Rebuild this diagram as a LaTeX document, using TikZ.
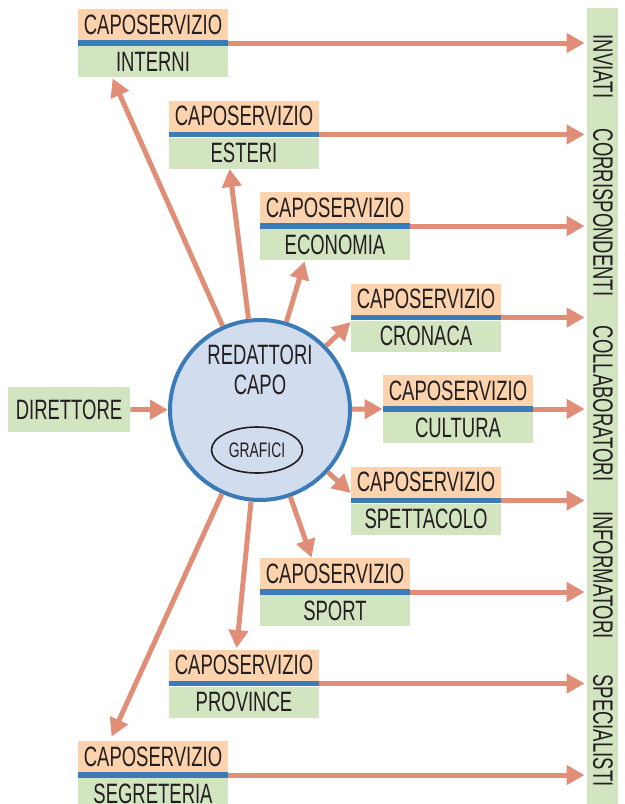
\documentclass[tikz,border=0pt]{standalone}
\usepackage{fontspec}
\setmainfont{Liberation Sans}[FakeStretch=0.66]
\usetikzlibrary{arrows.meta,shapes.geometric}

\definecolor{pesca}{HTML}{FDD3AE}
\definecolor{verde}{HTML}{D3E4C1}
\definecolor{blu}{HTML}{3A7BB8}
\definecolor{salmone}{HTML}{E08E77}
\definecolor{azzurro}{HTML}{D1DDEE}
\definecolor{inchiostro}{HTML}{231F20}

\tikzset{
  testo/.style={font=\fontsize{14}{15}\selectfont, text=inchiostro},
  capo/.style={testo, fill=pesca, minimum width=75pt, minimum height=15.5pt, inner sep=0pt},
  sezione/.style={testo, fill=verde, minimum width=75pt, minimum height=15.5pt, inner sep=0pt},
  flow/.style={draw=salmone, line width=2.5pt, -{Triangle[length=9pt,width=9.5pt]}},
  hub/.style={circle, fill=azzurro, draw=blu, line width=2pt, minimum size=90pt, inner sep=0pt}
}

\begin{document}
\begin{tikzpicture}[x=0.5pt,y=-0.5pt]
  \useasboundingbox (0,0) rectangle (625,804);

  % colonna delle fonti esterne
  \node[fill=verde, minimum width=15.5pt, minimum height=398pt, inner sep=0pt] (fonti) at (602.5,406) {};
  \node[testo, rotate=-90] (inviati) at (603,66.5) {INVIATI};
  \node[testo, rotate=-90] (corrispondenti) at (603,212.5) {CORRISPONDENTI};
  \node[testo, rotate=-90] (collaboratori) at (603,403.5) {COLLABORATORI};
  \node[testo, rotate=-90] (informatori) at (603,575) {INFORMATORI};
  \node[testo, rotate=-90] (specialisti) at (603,730.5) {SPECIALISTI};

  \foreach \nome/\testo/\x/\y in {interni/INTERNI/78/9, esteri/ESTERI/169/100.5,
      economia/ECONOMIA/260/192, cronaca/CRONACA/351/283.5, cultura/CULTURA/383/375,
      spettacolo/SPETTACOLO/351/466.5, sport/SPORT/260/558, province/PROVINCE/169/649.5,
      segreteria/SEGRETERIA/78/741}{
    \node[capo] (c-\nome) at (\x+75,\y+15.5) {CAPOSERVIZIO};
    \node[sezione] (\nome) at (\x+75,\y+52.5) {\testo};
    \fill[blu] (c-\nome.south west) rectangle (\nome.north east);
    \path (c-\nome.south west) -- (\nome.north west) coordinate[pos=.5] (sw-\nome);
    \path (c-\nome.south east) -- (\nome.north east) coordinate[pos=.5] (se-\nome);
    \draw[flow, shorten >=1pt] (se-\nome) -- (se-\nome -| fonti.west);
  }

  \node[testo, fill=verde, minimum width=61pt, minimum height=22.5pt, inner sep=0pt] (direttore) at (69,409.5) {DIRETTORE};

  \node[hub] (redattori) at (260,410) {};
  \node[testo, align=center] (titolo) at (260,370) {REDATTORI\\CAPO};
  \node[ellipse, draw=inchiostro, line width=0.8pt, minimum width=45.5pt, minimum height=23pt,
        inner sep=0pt, text=inchiostro, font=\fontsize{10.5}{12}\selectfont] (grafici) at (257,450) {GRAFICI};

  \draw[flow] (direttore) -- (redattori);
  \draw[flow] (redattori) -- ([xshift=17.5pt,yshift=-0.5pt]interni.south west);
  \draw[flow] (redattori) -- ([xshift=30.5pt]esteri.south west);
  \draw[flow] (redattori) -- ([xshift=22.5pt,yshift=-0.5pt]economia.south west);
  \draw[flow] (redattori) -- ([yshift=-1pt]cronaca.north west);
  \draw[flow] (redattori) -- (sw-cultura);
  \draw[flow] (redattori) -- ([yshift=2.5pt]c-spettacolo.south west);
  \draw[flow] (redattori) -- ([xshift=26pt]c-sport.north west);
  \draw[flow] (redattori) -- ([xshift=34pt,yshift=0.5pt]c-province.north west);
  \draw[flow] (redattori) -- ([xshift=17pt,yshift=2pt]c-segreteria.north west);
\end{tikzpicture}
\end{document}
